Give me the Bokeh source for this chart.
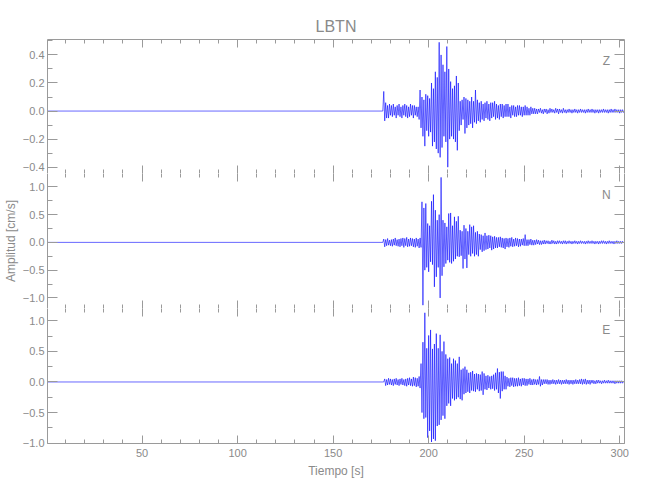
import numpy as np
from bokeh.plotting import figure
from bokeh.models import Range1d, LinearAxis, FixedTicker, CustomJSTickFormatter, Label
from bokeh.layouts import column
from bokeh.embed import file_html
from bokeh.resources import INLINE

# ---------------- data ----------------
station = "LBTN"
components = ["Z", "N", "E"]
x_label = "Tiempo [s]"
y_label = "Amplitud [cm/s]"

quiet_start = 0.0      # trace is flat (0) from here until onset
onset = 176.0          # first sample of the digitised part
dt = 0.5               # spacing of digitised samples [s]

z_vals = [
    0.00, 0.14, -0.07, 0.06, -0.05, 0.04, -0.05, 0.05, -0.03, 0.04,
    -0.04, 0.05, -0.03, 0.03, -0.05, 0.04, -0.03, 0.05, -0.04, 0.03,
    -0.05, 0.04, -0.03, 0.05, -0.04, 0.04, -0.05, 0.03, -0.04, 0.05,
    -0.03, 0.04, -0.05, 0.04, -0.03, 0.03, -0.04, 0.03, -0.06, 0.15,
    -0.12, 0.10, -0.18, 0.08, -0.25, 0.12, -0.14, 0.11, -0.18, 0.09,
    -0.15, 0.20, -0.25, 0.16, -0.22, 0.28, -0.27, 0.24, -0.30, 0.49,
    -0.33, 0.40, -0.26, 0.33, -0.18, 0.28, -0.22, 0.46, -0.40, 0.30,
    -0.20, 0.21, -0.18, 0.16, -0.20, 0.18, -0.22, 0.25, -0.28, 0.20,
    -0.14, 0.07, -0.10, 0.08, -0.06, 0.10, -0.16, 0.09, -0.12, 0.08,
    -0.10, 0.07, -0.09, 0.10, -0.12, 0.07, -0.08, 0.15, -0.09, 0.08,
    -0.07, 0.06, -0.08, 0.07, -0.06, 0.05, -0.07, 0.06, -0.05, 0.07,
    -0.06, 0.05, -0.07, 0.06, -0.05, 0.06, -0.04, 0.07, -0.06, 0.05,
    -0.05, 0.04, -0.06, 0.05, -0.04, 0.05, -0.05, 0.04, -0.04, 0.05,
    -0.04, 0.05, -0.04, 0.03, -0.05, 0.04, -0.03, 0.04, -0.04, 0.03,
    -0.04, 0.04, -0.03, 0.04, -0.03, 0.03, -0.04, 0.03, -0.03, 0.04,
    -0.03, 0.03, -0.03, 0.02, -0.03, 0.03, -0.02, 0.02, -0.02, 0.02,
    -0.02, 0.015, -0.02, 0.015, -0.01, 0.02, -0.015, 0.01, -0.02, 0.015,
    -0.01, 0.015, -0.02, 0.01, -0.015, 0.02, -0.01, 0.015, -0.01, 0.01,
    -0.015, 0.02, -0.01, 0.015, -0.02, 0.015, -0.01, 0.01, -0.015, 0.02,
    -0.01, 0.01, -0.015, 0.01, -0.01, 0.015, -0.01, 0.01, -0.015, 0.01,
    -0.01, 0.015, -0.01, 0.01, -0.015, 0.01, -0.01, 0.015, -0.01, 0.01,
    -0.01, 0.01, -0.015, 0.01, -0.01, 0.015, -0.01, 0.01, -0.01, 0.015,
    -0.01, 0.01, -0.015, 0.01, -0.01, 0.01, -0.015, 0.01, -0.01, 0.01,
    -0.01, 0.015, -0.01, 0.01, -0.01, 0.01, -0.015, 0.01, -0.01, 0.015,
    -0.01, 0.01, -0.01, 0.015, -0.01, 0.01, -0.01, 0.01, -0.015, 0.01,
    -0.01, 0.01, -0.01, 0.005,
]

n_vals = [
    0.00, 0.06, -0.08, 0.05, -0.06, 0.07, -0.05, 0.04, -0.06, 0.05,
    -0.07, 0.06, -0.05, 0.08, -0.06, 0.05, -0.07, 0.06, -0.08, 0.07,
    -0.06, 0.08, -0.09, 0.07, -0.06, 0.09, -0.08, 0.06, -0.07, 0.08,
    -0.06, 0.07, -0.08, 0.06, -0.09, 0.08, -0.07, 0.06, -0.10, 0.08,
    -0.09, 0.73, -1.13, 0.62, -0.50, 0.70, -0.45, 0.34, -0.53, 0.30,
    -0.35, 0.74, -0.40, 0.86, -0.80, 0.58, -0.62, 0.40, -0.45, 0.50,
    -1.00, 1.17, -0.60, 0.40, -0.44, 0.35, -0.38, 0.28, -0.32, 0.52,
    -0.36, 0.53, -0.38, 0.30, -0.34, 0.46, -0.30, 0.38, -0.25, 0.47,
    -0.26, 0.22, -0.24, 0.20, -0.47, 0.31, -0.30, 0.25, -0.46, 0.20,
    -0.22, 0.32, -0.25, 0.28, -0.20, 0.30, -0.25, 0.18, -0.22, 0.20,
    -0.25, 0.15, -0.13, 0.14, -0.17, 0.12, -0.15, 0.17, -0.13, 0.12,
    -0.12, 0.13, -0.10, 0.12, -0.14, 0.10, -0.12, 0.11, -0.10, 0.09,
    -0.10, 0.09, -0.08, 0.10, -0.09, 0.08, -0.10, 0.07, -0.12, 0.08,
    -0.08, 0.07, -0.09, 0.08, -0.07, 0.09, -0.08, 0.06, -0.07, 0.08,
    -0.06, 0.07, -0.08, 0.06, -0.07, 0.06, -0.05, 0.07, -0.06, 0.14,
    -0.06, 0.05, -0.06, 0.05, -0.04, 0.06, -0.05, 0.04, -0.05, 0.04,
    -0.04, 0.05, -0.03, 0.04, -0.04, 0.03, -0.04, 0.03, -0.03, 0.04,
    -0.03, 0.03, -0.02, 0.03, -0.03, 0.02, -0.03, 0.04, -0.02, 0.03,
    -0.03, 0.02, -0.03, 0.03, -0.02, 0.03, -0.02, 0.02, -0.03, 0.03,
    -0.02, 0.03, -0.03, 0.02, -0.02, 0.03, -0.02, 0.02, -0.03, 0.02,
    -0.02, 0.03, -0.02, 0.02, -0.03, 0.02, -0.02, 0.03, -0.02, 0.02,
    -0.02, 0.02, -0.03, 0.02, -0.02, 0.03, -0.02, 0.02, -0.02, 0.03,
    -0.02, 0.02, -0.03, 0.02, -0.02, 0.02, -0.03, 0.02, -0.02, 0.03,
    -0.02, 0.03, -0.02, 0.02, -0.03, 0.02, -0.02, 0.03, -0.02, 0.02,
    -0.02, 0.02, -0.03, 0.02, -0.02, 0.03, -0.02, 0.02, -0.02, 0.02,
    -0.02, 0.02, -0.01, 0.01,
]

e_vals = [
    0.00, 0.00, 0.05, -0.06, 0.04, -0.05, 0.06, -0.04, 0.05, -0.05,
    0.04, -0.06, 0.05, -0.04, 0.06, -0.05, 0.04, -0.06, 0.05, -0.04,
    0.06, -0.05, 0.04, -0.06, 0.05, -0.07, 0.06, -0.05, 0.07, -0.06,
    0.05, -0.07, 0.08, -0.06, 0.07, -0.08, 0.06, -0.07, 0.09, -0.10,
    0.30, -0.50, 0.65, -0.60, 1.13, -0.58, 0.55, -0.91, 0.76, -0.80,
    0.85, -0.98, 0.54, -0.93, 0.62, -0.96, 0.79, -0.72, 0.55, -0.70,
    0.77, -0.62, 0.50, -0.55, 0.66, -0.60, 0.45, -0.39, 0.38, -0.35,
    0.40, -0.39, 0.30, -0.27, 0.38, -0.30, 0.35, -0.28, 0.30, -0.25,
    0.41, -0.28, 0.20, -0.30, 0.22, -0.20, 0.25, -0.18, 0.20, -0.16,
    0.15, -0.18, 0.16, -0.14, 0.18, -0.15, 0.13, -0.16, 0.14, -0.12,
    0.13, -0.15, 0.12, -0.14, 0.17, -0.21, 0.14, -0.12, 0.10, -0.13,
    0.11, -0.10, 0.09, -0.12, 0.10, -0.11, 0.12, -0.14, 0.15, -0.12,
    0.22, -0.18, 0.16, -0.27, 0.17, -0.15, 0.17, -0.12, 0.10, -0.12,
    0.08, -0.07, 0.06, -0.08, 0.07, -0.06, 0.07, -0.08, 0.06, -0.07,
    0.06, -0.07, 0.07, -0.06, 0.05, -0.07, 0.06, -0.05, 0.06, -0.06,
    0.05, -0.06, 0.05, -0.04, 0.06, -0.05, 0.04, -0.05, 0.05, -0.04,
    0.04, -0.05, 0.04, -0.04, 0.09, -0.07, 0.04, -0.05, 0.04, -0.03,
    0.04, -0.03, 0.04, -0.04, 0.03, -0.04, 0.03, -0.03, 0.04, -0.03,
    0.03, -0.04, 0.03, -0.03, 0.04, -0.03, 0.03, -0.04, 0.03, -0.03,
    0.03, -0.03, 0.04, -0.03, 0.03, -0.04, 0.03, -0.03, 0.03, -0.04,
    0.03, -0.03, 0.04, -0.03, 0.03, -0.03, 0.04, -0.03, 0.05, -0.04,
    0.04, -0.03, 0.05, -0.04, 0.03, -0.03, 0.03, -0.04, 0.03, -0.02,
    0.03, -0.03, 0.02, -0.03, 0.03, -0.02, 0.03, -0.02, 0.02, -0.03,
    0.02, -0.02, 0.03, -0.02, 0.02, -0.02, 0.03, -0.02, 0.02, -0.02,
    0.02, -0.02, 0.02, -0.03, 0.02, -0.02, 0.02, -0.02, 0.02, -0.02,
    0.02, -0.02, 0.01, -0.01,
]

x_start, x_end = 0.5, 302.5
x_major = [50, 100, 150, 200, 250, 300]
x_minor = [10 * k for k in range(1, 31)]

y_limits = [(-0.445, 0.51), (-1.19, 1.24), (-1.005, 1.2)]
y_major = [[-0.4, -0.2, 0.0, 0.2, 0.4],
           [-1.0, -0.5, 0.0, 0.5, 1.0],
           [-1.0, -0.5, 0.0, 0.5, 1.0]]
y_minor = [[-0.4, -0.3, -0.2, -0.1, 0.0, 0.1, 0.2, 0.3, 0.4, 0.5],
           [-1.0, -0.75, -0.5, -0.25, 0.0, 0.25, 0.5, 0.75, 1.0],
           [-1.0, -0.75, -0.5, -0.25, 0.0, 0.25, 0.5, 0.75, 1.0]]
traces = [z_vals, n_vals, e_vals]

# ---------------- styling ----------------
FONT = "Liberation Sans"
TXT = "#8a8a8a"
AX = "#9a9a9a"
BLUE = "#0000ff"
FRAME_W = 577
FRAME_H = [134, 135, 135]
LEFT, RIGHT = 39, 18

yfmt = CustomJSTickFormatter(code="""
return (tick < 0 ? "\\u2212" : "") + Math.abs(tick).toFixed(1);
""")
nofmt = CustomJSTickFormatter(code="return '';")

x_rng = Range1d(x_start, x_end)


def style_axis(ax, major_len, minor_len, line, labels):
    ax.major_tick_in = major_len
    ax.major_tick_out = 0
    ax.minor_tick_in = minor_len
    ax.minor_tick_out = 0
    ax.major_tick_line_color = AX
    ax.minor_tick_line_color = AX
    ax.axis_line_color = AX if line else None
    if labels:
        ax.major_label_text_font = FONT
        ax.major_label_text_font_size = "11px"
        ax.major_label_text_color = TXT
        ax.major_label_standoff = 3
    else:
        ax.formatter = nofmt
        ax.major_label_text_font_size = "0px"
        ax.major_label_standoff = 0


panels = []
for i in range(3):
    lo, hi = y_limits[i]
    p = figure(frame_width=FRAME_W, frame_height=FRAME_H[i],
               x_range=x_rng, y_range=Range1d(lo, hi),
               output_backend="svg", toolbar_location=None,
               x_axis_location=None, y_axis_location=None)
    p.outline_line_color = None
    p.background_fill_color = "white"
    p.border_fill_color = "white"
    p.min_border_left = LEFT
    p.min_border_right = RIGHT
    p.min_border_top = 39 if i == 0 else 0
    p.min_border_bottom = 0
    for g in p.grid:
        g.visible = False

    xt = FixedTicker(ticks=x_major, minor_ticks=x_minor)
    yt = FixedTicker(ticks=y_major[i], minor_ticks=y_minor[i])

    left = LinearAxis(ticker=yt, formatter=yfmt)
    style_axis(left, 10, 5, True, True)
    left.axis_label = y_label if i == 1 else " "
    left.axis_label_text_font = FONT
    left.axis_label_text_font_size = "12px"
    left.axis_label_text_font_style = "normal"
    left.axis_label_text_color = TXT
    left.axis_label_standoff = 2
    p.add_layout(left, "left")

    right = LinearAxis(ticker=yt)
    style_axis(right, 10, 5, True, False)
    p.add_layout(right, "right")

    top = LinearAxis(ticker=xt)
    style_axis(top, 8, 4, i == 0, False)
    p.add_layout(top, "above")

    bottom = LinearAxis(ticker=xt)
    style_axis(bottom, 8, 4, True, i == 2)
    if i == 2:
        bottom.major_label_standoff = 5
        bottom.axis_label = x_label
        bottom.axis_label_text_font = FONT
        bottom.axis_label_text_font_size = "12px"
        bottom.axis_label_text_font_style = "normal"
        bottom.axis_label_text_color = TXT
        bottom.axis_label_standoff = 4
    p.add_layout(bottom, "below")

    if i == 0:
        p.title.text = station
        p.title.align = "center"
        p.title.text_font = FONT
        p.title.text_font_size = "16px"
        p.title.text_font_style = "normal"
        p.title.text_color = TXT
        p.title.standoff = 10

    vals = traces[i]
    t = [quiet_start] + [onset + dt * k for k in range(len(vals))]
    y = [0.0] + list(vals)
    p.line(t, y, line_color=BLUE, line_width=0.6)

    p.add_layout(Label(x=293, y=hi - 0.16 * (hi - lo), text=components[i],
                       text_font=FONT, text_font_size="12px", text_color=TXT,
                       text_align="center", text_baseline="middle"))
    panels.append(p)

layout = column(*panels, spacing=0)
open("out.html", "w").write(file_html(layout, INLINE))
